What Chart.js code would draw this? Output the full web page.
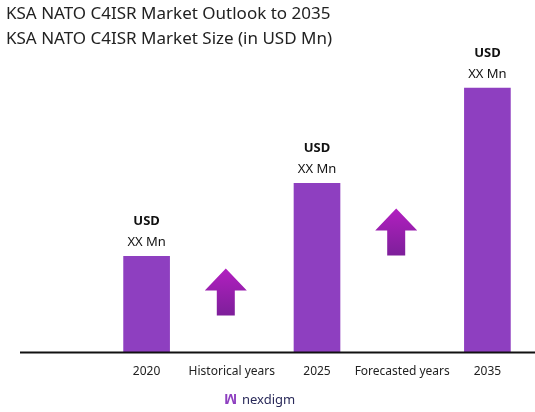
<!DOCTYPE html>
<html>
<head>
<meta charset="utf-8">
<script src="https://cdn.jsdelivr.net/npm/chart.js@4"></script>
<style>
  body { margin: 0; background: #fff; }
</style>
</head>
<body>
<canvas id="myChart" width="535" height="412"></canvas>
<script>
var categories = ['2020', 'Historical years', '2025', 'Forecasted years', '2035'];
var marketSize = [96, null, 169, null, 264];
var arrowAt = [1, 3];
var arrowBase = [37, 97];
var titleLines = ['KSA NATO C4ISR Market Outlook to 2035', 'KSA NATO C4ISR Market Size (in USD Mn)'];

var decor = {
  id: 'decor',
  afterDraw: function(chart) {
    var ctx = chart.ctx, x = chart.scales.x, y = chart.scales.y;
    ctx.save();
    // titles
    ctx.fillStyle = '#222';
    ctx.font = '17px "Noto Sans"';
    ctx.textBaseline = 'top';
    ctx.fillText(titleLines[0], 6, 6);
    ctx.fillText(titleLines[1], 6, 31);
    // baseline
    ctx.strokeStyle = '#111';
    ctx.lineWidth = 2;
    ctx.beginPath();
    ctx.moveTo(20, y.getPixelForValue(0));
    ctx.lineTo(535, y.getPixelForValue(0));
    ctx.stroke();
    // value labels
    ctx.textAlign = 'center';
    ctx.textBaseline = 'alphabetic';
    for (var i = 0; i < marketSize.length; i++) {
      if (marketSize[i] == null) continue;
      var px = x.getPixelForValue(i), py = y.getPixelForValue(marketSize[i]);
      ctx.fillStyle = '#111';
      ctx.font = 'bold 13px "Noto Sans"';
      ctx.fillText('USD', px, py - 31);
      ctx.font = '13px "Noto Sans"';
      ctx.fillText('XX Mn', px, py - 10);
    }
    // arrows
    for (var j = 0; j < arrowAt.length; j++) {
      var ax = x.getPixelForValue(arrowAt[j]) - 6;
      var bottom = y.getPixelForValue(arrowBase[j]);
      var top = bottom - 47;
      var g = ctx.createLinearGradient(0, top, 0, bottom);
      g.addColorStop(0, '#b21fc0');
      g.addColorStop(1, '#7d1f9a');
      ctx.fillStyle = g;
      ctx.beginPath();
      ctx.moveTo(ax, top);
      ctx.lineTo(ax + 21, top + 22);
      ctx.lineTo(ax + 9, top + 22);
      ctx.lineTo(ax + 9, bottom);
      ctx.lineTo(ax - 9, bottom);
      ctx.lineTo(ax - 9, top + 22);
      ctx.lineTo(ax - 21, top + 22);
      ctx.closePath();
      ctx.fill();
    }
    // logo
    ctx.font = '13px "Noto Sans"';
    ctx.fillStyle = '#2a2a5a';
    ctx.textAlign = 'left';
    ctx.fillText('nexdigm', 242, 404);
    ctx.fillStyle = '#8e3fc0';
    ctx.font = 'bold 14px "Noto Sans"';
    ctx.fillText('ꟽ', 224, 404);
    ctx.restore();
  }
};

new Chart(document.getElementById('myChart'), {
  type: 'bar',
  data: {
    labels: categories,
    datasets: [{
      data: marketSize,
      backgroundColor: '#8e3fc0',
      barThickness: 46
    }]
  },
  options: {
    responsive: false,
    animation: false,
    layout: { padding: { top: 52, left: 104, right: 5, bottom: 29 } },
    plugins: { legend: { display: false }, tooltip: { enabled: false } },
    scales: {
      x: {
        grid: { display: false },
        border: { display: false },
        ticks: { color: '#222', font: { size: 12, family: 'Noto Sans' }, padding: 4, maxRotation: 0, autoSkip: false }
      },
      y: {
        display: false,
        min: 0,
        max: 300
      }
    }
  },
  plugins: [decor]
});
</script>
</body>
</html>
